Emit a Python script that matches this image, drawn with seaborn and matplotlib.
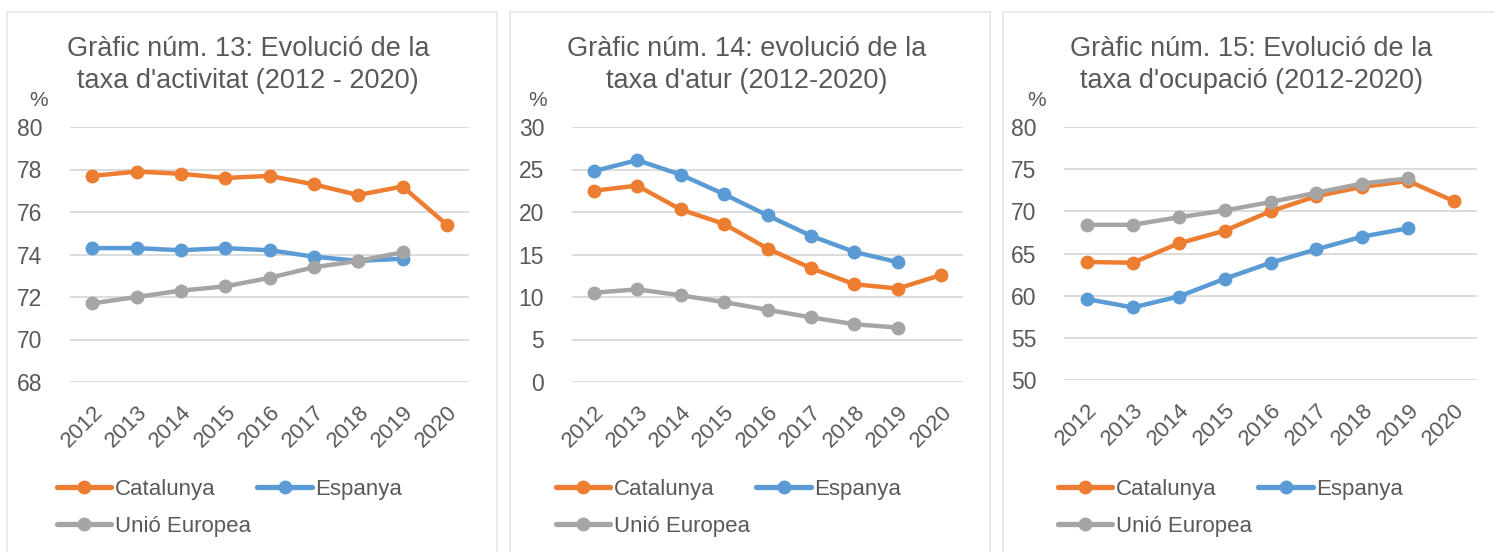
import matplotlib
matplotlib.use("Agg")
import matplotlib.pyplot as plt
from matplotlib.lines import Line2D
from matplotlib.patches import Rectangle
import seaborn as sns

years = [2012, 2013, 2014, 2015, 2016, 2017, 2018, 2019, 2020]
series_names = ["Catalunya", "Espanya", "Unió Europea"]

# Gràfic 13: taxa d'activitat
activ_cat = [77.7, 77.9, 77.8, 77.6, 77.7, 77.3, 76.8, 77.2, 75.4]
activ_esp = [74.3, 74.3, 74.2, 74.3, 74.2, 73.9, 73.7, 73.8]
activ_ue = [71.7, 72.0, 72.3, 72.5, 72.9, 73.4, 73.7, 74.1]

# Gràfic 14: taxa d'atur
atur_cat = [22.5, 23.1, 20.3, 18.6, 15.7, 13.4, 11.5, 11.0, 12.6]
atur_esp = [24.8, 26.1, 24.4, 22.1, 19.6, 17.2, 15.3, 14.1]
atur_ue = [10.5, 10.9, 10.2, 9.4, 8.5, 7.6, 6.8, 6.4]

# Gràfic 15: taxa d'ocupació
ocup_cat = [64.0, 63.9, 66.2, 67.7, 70.0, 71.8, 72.9, 73.6, 71.2]
ocup_esp = [59.6, 58.6, 59.9, 62.0, 63.9, 65.5, 67.0, 68.0]
ocup_ue = [68.4, 68.4, 69.3, 70.1, 71.1, 72.2, 73.3, 73.9]

titles = ["Gràfic núm. 13: Evolució de la\ntaxa d'activitat (2012 - 2020)",
          "Gràfic núm. 14: evolució de la\ntaxa d'atur (2012-2020)",
          "Gràfic núm. 15: Evolució de la\ntaxa d'ocupació (2012-2020)"]
yticks = [[68, 70, 72, 74, 76, 78, 80],
          [0, 5, 10, 15, 20, 25, 30],
          [50, 55, 60, 65, 70, 75, 80]]

colors = {"Catalunya": "#ED7D31", "Espanya": "#5B9BD5", "Unió Europea": "#A5A5A5"}
txt = "#595959"

sns.set_style("white")
plt.rcParams['font.family'] = ['Liberation Sans', 'DejaVu Sans']

W, H = 1495, 552
fig = plt.figure(figsize=(W / 100, H / 100), dpi=100)

def fx(px):
    return px / W

def fy(py):
    return 1 - py / H

# panel frames (left, right) in pixels
frames = [(7, 497), (510, 990), (1003, 1500)]
for l, r in frames:
    fig.patches.append(Rectangle((fx(l), fy(560)), fx(r - l), (560 - 12) / H,
                                 transform=fig.transFigure, fill=False,
                                 edgecolor="#E6E6E6", linewidth=1.2))

# axes boxes (left, right, top, bottom) in pixels
boxes = [(70, 469, 127, 382), (572, 963, 127, 382), (1064, 1477, 127, 380)]
title_x = [248, 747, 1251]
pct_x = [39, 538, 1037]
legend_x = [57, 556, 1058]

data = [(activ_cat, activ_esp, activ_ue),
        (atur_cat, atur_esp, atur_ue),
        (ocup_cat, ocup_esp, ocup_ue)]

labels = [str(y) for y in years]

for i, (l, r, t, b) in enumerate(boxes):
    ax = fig.add_axes([fx(l), fy(b), fx(r - l), (b - t) / H])
    for name, vals in zip(series_names, data[i]):
        sns.lineplot(x=labels[:len(vals)], y=vals, ax=ax, color=colors[name],
                     marker="o", markersize=10, markeredgewidth=0,
                     linewidth=3.2, sort=False)
    ax.set_xlim(-0.5, 8.5)
    ax.set_ylim(yticks[i][0], yticks[i][-1])
    ax.set_yticks(yticks[i])
    ax.set_xticks(range(len(labels)))
    ax.set_xticklabels(labels, rotation=45, ha="right", rotation_mode="anchor")
    ax.grid(axis="y", color="#D9D9D9", linewidth=1.3)
    ax.set_axisbelow(True)
    for s in ax.spines.values():
        s.set_visible(False)
    ax.tick_params(axis="y", length=0, pad=20, labelsize=16.5, labelcolor=txt)
    ax.tick_params(axis="x", length=0, pad=14, labelsize=16, labelcolor=txt)
    ax.set_xlabel("")
    ax.set_ylabel("")

    fig.text(fx(title_x[i]), fy(64.5), titles[i], ha="center", va="center",
             fontsize=19.5, color=txt, linespacing=1.3)
    fig.text(fx(pct_x[i]), fy(101), "%", ha="center", va="center",
             fontsize=15, color=txt)

    handles = [Line2D([], [], color=colors[n], marker="o", markersize=10,
                      markeredgewidth=0, linewidth=3.8, label=n)
               for n in ["Catalunya", "Unió Europea", "Espanya"]]
    fig.legend(handles=handles, loc="upper left",
               bbox_to_anchor=(fx(legend_x[i]), fy(479)), ncol=2,
               frameon=False, fontsize=16, labelcolor=txt,
               handlelength=2.45, handletextpad=0.15, columnspacing=0.3,
               labelspacing=0.72, borderpad=0, borderaxespad=0)

fig.savefig("out.png", dpi=100, facecolor="white")
